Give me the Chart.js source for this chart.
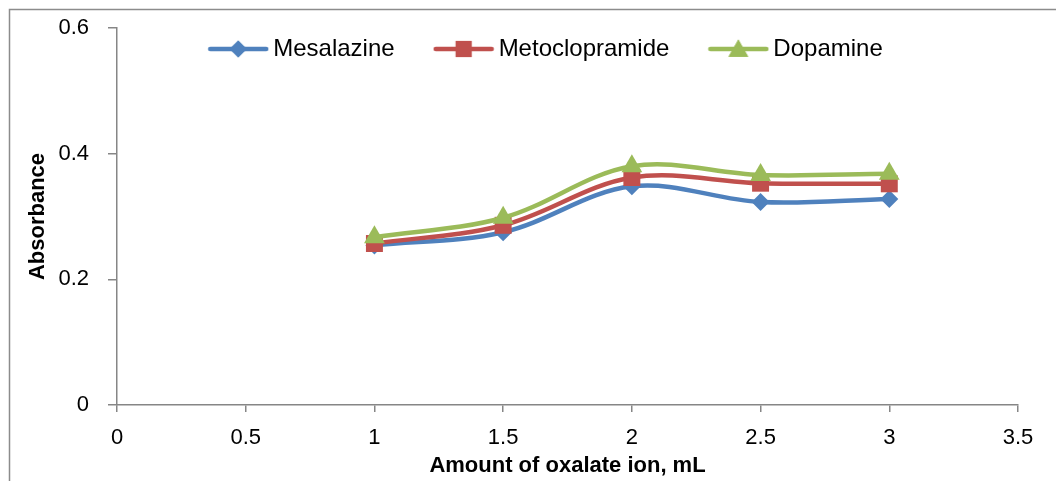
<!DOCTYPE html>
<html>
<head>
<meta charset="utf-8">
<script src="https://cdn.jsdelivr.net/npm/chart.js@4.4.1/dist/chart.umd.min.js"></script>
<style>
  html, body { margin: 0; padding: 0; background: #fff; }
  #wrap { width: 1056px; height: 481px; }
</style>
</head>
<body>
<div id="wrap"><canvas id="myChart" width="1056" height="481"></canvas></div>
<script>
// data
const xValues = [1, 1.5, 2, 2.5, 3];
const mesalazine = [0.254, 0.275, 0.348, 0.323, 0.328];
const metoclopramide = [0.257, 0.286, 0.362, 0.353, 0.352];
const dopamine = [0.267, 0.298, 0.380, 0.366, 0.368];
const seriesNames = ["Mesalazine", "Metoclopramide", "Dopamine"];
const xTicks = [0, 0.5, 1, 1.5, 2, 2.5, 3, 3.5];
const yTicks = [0, 0.2, 0.4, 0.6];

const colors = ["#4F81BD", "#C0504D", "#9BBB59"];
const markers = ["rectRot", "rect", "triangle"];
const radii = [9, 12, 12];
const axisGray = "#868686";

function toPoints(ys) {
  return xValues.map((x, i) => ({ x: x, y: ys[i] }));
}

// legend icon: short line with the marker in the middle
function legendIcon(i) {
  const c = document.createElement("canvas");
  c.width = 62;
  c.height = 28;
  const ctx = c.getContext("2d");
  ctx.strokeStyle = colors[i];
  ctx.lineWidth = 4.5;
  ctx.lineCap = "round";
  ctx.beginPath();
  ctx.moveTo(3, 14);
  ctx.lineTo(59, 14);
  ctx.stroke();
  ctx.fillStyle = colors[i];
  Chart.helpers.drawPoint(ctx, {
    pointStyle: markers[i], radius: radii[i] * 0.95, rotation: 0, borderWidth: 0
  }, 31, i === 2 ? 16 : 14);
  ctx.fill();
  return c;
}

const frame = {
  id: "frame",
  beforeLayout(chart) {
    // the legend sits inside the plot, so it must not take any layout height
    const lg = chart.legend;
    if (lg && !lg._patched) {
      const fit = lg.fit;
      lg.fit = function () { fit.call(this); this.height = 0; };
      lg._patched = true;
    }
  },
  afterLayout(chart) {
    // centre the legend on the whole picture, near the top of the plot
    const lg = chart.legend;
    lg.left = 12;
    lg.right = 1086;
    lg.top = -9;
    lg.bottom = 110;
  },
  beforeDraw(chart) {
    const ctx = chart.ctx;
    ctx.save();
    ctx.strokeStyle = "#8c8c8c";
    ctx.lineWidth = 1.5;
    ctx.beginPath();
    ctx.moveTo(9.5, 481);
    ctx.lineTo(9.5, 9.5);
    ctx.lineTo(1056, 9.5);
    ctx.stroke();
    ctx.restore();
  }
};

const datasets = [mesalazine, metoclopramide, dopamine].map((ys, i) => ({
  label: seriesNames[i],
  data: toPoints(ys),
  borderColor: colors[i],
  backgroundColor: colors[i],
  borderWidth: 4.5,
  pointStyle: markers[i],
  pointRadius: radii[i],
  pointBorderWidth: 0,
  pointBackgroundColor: colors[i],
  tension: 0.35,
  order: 2 - i,
}));

Chart.defaults.color = "#000";
Chart.defaults.font.family = "'Liberation Sans', Arial, sans-serif";

const chart = new Chart(document.getElementById("myChart"), {
  type: "line",
  data: { datasets: datasets },
  plugins: [frame],
  options: {
    responsive: false,
    animation: false,
    layout: { padding: { top: 28, right: 38, bottom: 0, left: 0 } },
    plugins: {
      tooltip: { enabled: false },
      legend: {
        position: "top",
        labels: {
          usePointStyle: true,
          pointStyleWidth: 46,
          boxHeight: 24,
          padding: 46,
          font: { size: 24 },
          sort: (a, b) => a.datasetIndex - b.datasetIndex,
          generateLabels(chart) {
            const items = Chart.defaults.plugins.legend.labels.generateLabels(chart);
            items.forEach(it => { it.pointStyle = legendIcon(it.datasetIndex); });
            return items;
          }
        }
      }
    },
    scales: {
      x: {
        type: "linear",
        min: 0,
        max: 3.5,
        afterBuildTicks(scale) { scale.ticks = xTicks.map(v => ({ value: v })); },
        afterFit(scale) { scale.height = 76; },
        ticks: { font: { size: 22 }, padding: 13, maxRotation: 0, callback: v => String(v) },
        grid: { drawOnChartArea: false, drawTicks: true, tickLength: 7, color: axisGray, lineWidth: 1.5 },
        border: { color: axisGray, width: 1.5 },
        title: {
          display: true,
          text: "Amount of oxalate ion, mL",
          font: { size: 22, weight: "bold" },
          padding: { top: 0, bottom: 2 }
        }
      },
      y: {
        min: 0,
        max: 0.6,
        afterBuildTicks(scale) { scale.ticks = yTicks.map(v => ({ value: v })); },
        afterFit(scale) {
          scale.width = 117;
          scale.paddingTop = 12;
          scale.paddingBottom = 12;
        },
        ticks: { font: { size: 22 }, padding: 19, callback: v => String(v) },
        grid: { drawOnChartArea: false, drawTicks: true, tickLength: 9, color: axisGray, lineWidth: 1.5 },
        border: { color: axisGray, width: 1.5 },
        title: {
          display: true,
          text: "Absorbance",
          font: { size: 22, weight: "bold" },
          padding: { top: 25, bottom: 0 }
        }
      }
    }
  }
});
</script>
</body>
</html>
